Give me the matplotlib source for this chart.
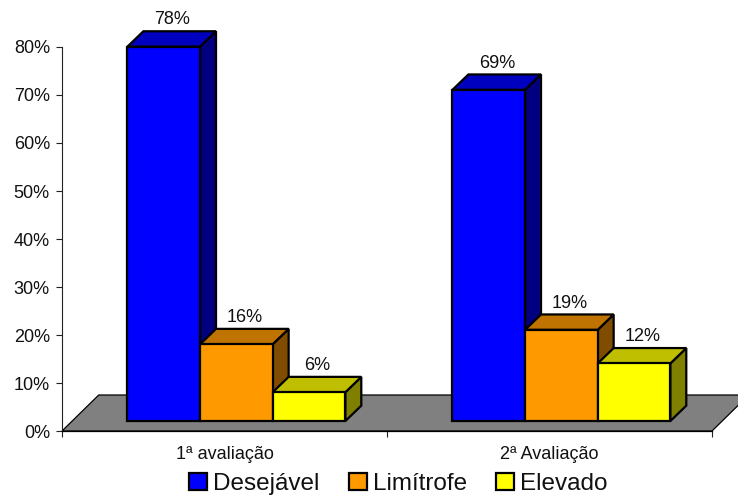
import matplotlib
matplotlib.use("Agg")
import matplotlib.pyplot as plt
from matplotlib.patches import Patch

plt.rcParams['font.family'] = ['Liberation Sans', 'DejaVu Sans']

categories = ["1ª avaliação", "2ª Avaliação"]
series_names = ["Desejável", "Limítrofe", "Elevado"]
desejavel = [78, 69]
limitrofe = [16, 19]
elevado = [6, 12]
yticks = [0, 10, 20, 30, 40, 50, 60, 70, 80]

series = [desejavel, limitrofe, elevado]
front = ["#0000FF", "#FF9900", "#FFFF00"]
top = ["#0000BF", "#BF7300", "#BFBF00"]
side = ["#000080", "#804D00", "#808000"]

fig = plt.figure(figsize=(7.38, 4.95), dpi=100)
ax = fig.add_axes([62 / 738, 64 / 495, 650 / 738, 384 / 495])
ax.set_xlim(0, 2)
ax.set_ylim(0, 80)

# fake 3d offsets, in data units
dx = 0.049
dy = 3.2
base = 2.08
bar_w = 0.2235
floor_dx = 0.113
floor_dy = 7.5

# floor
ax.fill([0, 2, 2 + floor_dx, floor_dx], [0, 0, floor_dy, floor_dy],
        facecolor="#808080", edgecolor="black", linewidth=0.9, clip_on=False, zorder=1)

for g in range(len(categories)):
    left = g + 0.2014
    for s, values in enumerate(series):
        x0 = left + s * bar_w
        x1 = x0 + bar_w
        v = values[g] + base
        ax.fill([x1, x1 + dx, x1 + dx, x1], [base, base + dy, v + dy, v],
                facecolor=side[s], edgecolor="black", linewidth=1.6, clip_on=False, zorder=2)
        ax.fill([x0, x1, x1 + dx, x0 + dx], [v, v, v + dy, v + dy],
                facecolor=top[s], edgecolor="black", linewidth=1.6, clip_on=False, zorder=2)
        ax.bar(x0, values[g], bar_w, bottom=base, align="edge", color=front[s],
               edgecolor="black", linewidth=1.6, clip_on=False, zorder=2)
        ax.text(x0 + bar_w / 2 + 0.025, v + dy + 0.6, "%d%%" % values[g], ha="center", va="bottom",
                fontsize=13, color="#111111", clip_on=False, zorder=3)

ax.set_yticks(yticks)
ax.set_yticklabels(["%d%%" % t for t in yticks], fontsize=13, color="#111111")
ax.set_xticks([0, 1, 2])
ax.set_xticklabels([])
ax.set_xticks([0.5, 1.5], categories, minor=True, fontsize=13, color="#111111")
ax.tick_params(axis="x", which="minor", length=0, pad=11)
ax.tick_params(axis="both", which="major", length=4.5, width=0.8, color="#222222")
ax.tick_params(axis="y", pad=4.2)

for name in ["top", "right"]:
    ax.spines[name].set_visible(False)
ax.spines["left"].set_linewidth(0.8)
ax.spines["left"].set_color("#222222")
ax.spines["bottom"].set_linewidth(0.9)
ax.patch.set_visible(False)

handles = [Patch(facecolor=c, edgecolor="black", linewidth=1.6) for c in front]
fig.legend(handles, series_names, loc="lower left", bbox_to_anchor=(172 / 738, -17 / 495),
           ncols=3, frameon=False, fontsize=17.5, handlelength=0.74, handleheight=0.7,
           handletextpad=0.25, columnspacing=1.2, borderpad=0.2, labelcolor="#111111")

fig.savefig("out.png", dpi=100)
